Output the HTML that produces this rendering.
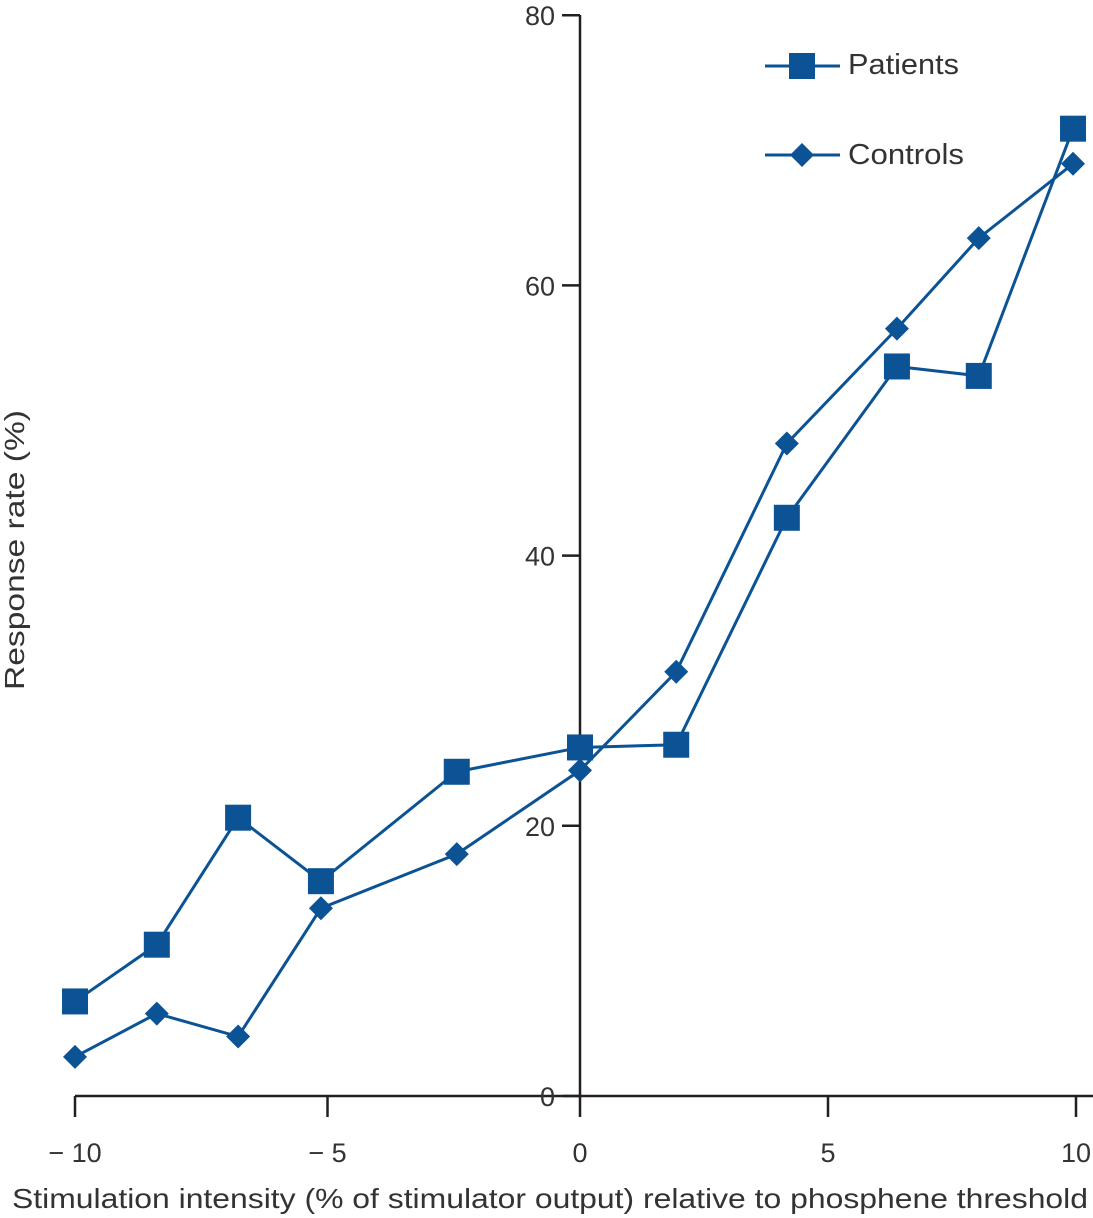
<!DOCTYPE html>
<html><head><meta charset="utf-8"><style>
html,body{margin:0;padding:0;background:#fff;}
svg{display:block;font-family:"Liberation Sans",sans-serif;}
</style></head><body>
<svg id="chart" width="1093" height="1218" viewBox="0 0 1093 1218" xmlns="http://www.w3.org/2000/svg"></svg>
<script>
const xValues = [-10, -8.38, -6.77, -5.13, -2.44, 0, 1.94, 4.17, 6.39, 8.04, 9.94];
const patientValues = [7.0, 11.2, 20.6, 15.9, 24.0, 25.8, 26.0, 42.8, 54.0, 53.3, 71.6];
const controlValues = [2.9, 6.1, 4.4, 13.9, 17.9, 24.1, 31.4, 48.3, 56.8, 63.5, 69.0];
const xTicks = [-10, -5, 0, 5, 10];
const xTickLabels = ["\u2212 10", "\u2212 5", "0", "5", "10"];
const yTicks = [0, 20, 40, 60, 80];
const yTickLabels = ["0", "20", "40", "60", "80"];

const svg = document.getElementById('chart');
const NS = 'http://www.w3.org/2000/svg';
const C = '#0b5394', T = '#231f20';
function sx(v){ return 580 + v * (v < 0 ? 50.5 : 49.6); }
function sy(v){ return 1096 - v * 13.51; }
function mk(tag, attrs, parent){
  const e = document.createElementNS(NS, tag);
  for (const k in attrs) e.setAttribute(k, attrs[k]);
  (parent || svg).appendChild(e);
  return e;
}
let e = mk('line', {x1: 75, y1: 1096, x2: 1093, y2: 1096, stroke: T, 'stroke-width': 2.5});


e = mk('line', {x1: 580, y1: 15, x2: 580, y2: 1096, stroke: T, 'stroke-width': 2.5});


xTicks.forEach((v, i) => {
  const t = mk('line', {x1: sx(v), y1: 1096, x2: sx(v), y2: 1117, stroke: T, 'stroke-width': 2.5});
  
  
  const l = mk('text', {x: sx(v), y: 1162, 'text-anchor': 'middle', 'font-size': 27, fill: '#333'});
  l.textContent = xTickLabels[i];
  
  
});
yTicks.forEach((v, i) => {
  const t = mk('line', {x1: 562, y1: sy(v), x2: 580, y2: sy(v), stroke: T, 'stroke-width': 2.5});
  
  
  const l = mk('text', {x: 555, y: sy(v) + 10, 'text-anchor': 'end', 'font-size': 27, fill: '#333'});
  l.textContent = yTickLabels[i];
  
  
});
e = mk('text', {x: 12, y: 1208, 'font-size': 28, fill: '#333', textLength: 1076, lengthAdjust: 'spacingAndGlyphs'});
e.textContent = 'Stimulation intensity (% of stimulator output) relative to phosphene threshold';


e = mk('text', {x: 0, y: 0, 'font-size': 28, fill: '#333', textLength: 280, lengthAdjust: 'spacingAndGlyphs', transform: 'translate(24,690) rotate(-90)'});
e.textContent = 'Response rate (%)';



function square(cx, cy, name){
  const s = mk('rect', {x: cx - 13, y: cy - 13, width: 26, height: 26, fill: C});
  
  
}
function diamond(cx, cy, name){
  const d = mk('polygon', {points: `${cx},${cy-12} ${cx+12},${cy} ${cx},${cy+12} ${cx-12},${cy}`, fill: C});
  
  
}
const pl = mk('polyline', {points: xValues.map((x, i) => sx(x) + ',' + sy(patientValues[i])).join(' '), fill: 'none', stroke: C, 'stroke-width': 3});


const cl = mk('polyline', {points: xValues.map((x, i) => sx(x) + ',' + sy(controlValues[i])).join(' '), fill: 'none', stroke: C, 'stroke-width': 3});


xValues.forEach((x, i) => square(sx(x), sy(patientValues[i]), 'patients-point'));
xValues.forEach((x, i) => diamond(sx(x), sy(controlValues[i]), 'controls-point'));

e = mk('line', {x1: 765, y1: 66, x2: 840, y2: 66, stroke: C, 'stroke-width': 3});


square(802, 66, 'legend-patients-marker');
e = mk('text', {x: 848, y: 74, 'font-size': 29, fill: '#333', textLength: 111, lengthAdjust: 'spacingAndGlyphs'});
e.textContent = 'Patients';


e = mk('line', {x1: 765, y1: 155, x2: 840, y2: 155, stroke: C, 'stroke-width': 3});


diamond(802, 155, 'legend-controls-marker');
e = mk('text', {x: 848, y: 164, 'font-size': 29, fill: '#333', textLength: 116, lengthAdjust: 'spacingAndGlyphs'});
e.textContent = 'Controls';


</script>
</body></html>
